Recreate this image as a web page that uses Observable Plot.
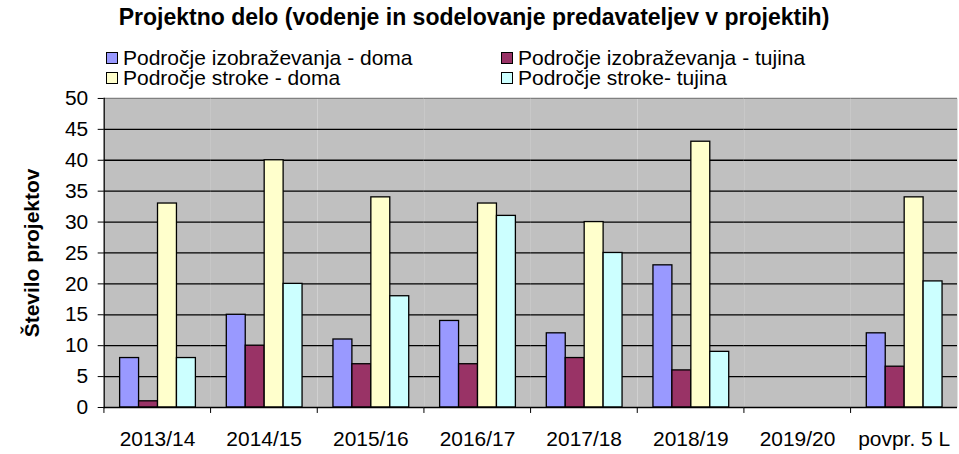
<!DOCTYPE html>
<html>
<head>
<meta charset="utf-8">
<script src="https://cdn.jsdelivr.net/npm/d3@7"></script>
<script src="https://cdn.jsdelivr.net/npm/@observablehq/plot@0.6"></script>
<style>
  html, body { margin: 0; padding: 0; background: #fff; overflow: hidden; }
  #wrap { width: 959px; height: 454px; overflow: hidden; font-family: "Liberation Sans", Arial, sans-serif; color: #000; }
  #header { position: relative; height: 84px; }
  #title { position: absolute; left: 0; width: 948px; top: 6px; text-align: center; font-weight: bold; font-size: 23px; line-height: 23px; white-space: nowrap; }
  .item { position: absolute; font-size: 21px; line-height: 18px; white-space: nowrap; }
  .sw { position: absolute; width: 10px; height: 10px; border: 1px solid #000; }
  #chart svg g[aria-label="y-axis label"] text { font-weight: bold; font-size: 21px; }
</style>
</head>
<body>
<div id="wrap">
  <div id="header"><div id="title"></div></div>
  <div id="chart"></div>
</div>
<script>
const title = "Projektno delo (vodenje in sodelovanje predavateljev v projektih)";
const yTitle = "Število projektov";
const years = ["2013/14", "2014/15", "2015/16", "2016/17", "2017/18", "2018/19", "2019/20", "povpr. 5 L"];
const series = ["Področje izobraževanja - doma", "Področje izobraževanja - tujina", "Področje stroke - doma", "Področje stroke- tujina"];
const izobrazevanjeDoma = [8, 15, 11, 14, 12, 23, null, 12];
const izobrazevanjeTujina = [1, 10, 7, 7, 8, 6, null, 6.6];
const strokaDoma = [33, 40, 34, 33, 30, 43, null, 34];
const strokaTujina = [8, 20, 18, 31, 25, 9, null, 20.4];
const colors = ["#9999FF", "#993366", "#FFFFCC", "#CCFFFF"];
const yTicks = [0, 5, 10, 15, 20, 25, 30, 35, 40, 45, 50];

const values = [izobrazevanjeDoma, izobrazevanjeTujina, strokaDoma, strokaTujina];
// keep rows for empty years (value null) so every facet exists
const data = years.flatMap((year, i) =>
  series.map((s, j) => ({year, series: s, value: values[j][i]}))
);

// header: title + legend
document.getElementById("title").textContent = title;
const header = document.getElementById("header");
const legendPos = [
  {left: 106, top: 49}, {left: 501, top: 49},
  {left: 106, top: 68.5}, {left: 501, top: 68.5}
];
series.forEach((s, i) => {
  const sw = document.createElement("div");
  sw.className = "sw";
  sw.style.background = colors[i];
  sw.style.left = legendPos[i].left + "px";
  sw.style.top = (legendPos[i].top + 3) + "px";
  header.appendChild(sw);
  const t = document.createElement("div");
  t.className = "item";
  t.textContent = s;
  t.style.left = (legendPos[i].left + 17) + "px";
  t.style.top = legendPos[i].top + "px";
  header.appendChild(t);
});

const W = 962, mL = 102, mR = 0;
const step = (W - mL - mR) / years.length;

const chart = Plot.plot({
  width: W,
  height: 370,
  marginTop: 14,
  marginBottom: 46,
  marginLeft: mL,
  marginRight: mR,
  style: {fontFamily: "Liberation Sans, Arial, sans-serif", fontSize: "21px", color: "#000", background: "transparent"},
  fx: {domain: years, padding: 0, label: null, axis: null},
  x: {domain: series, paddingInner: 0, paddingOuter: 0.68, axis: null},
  y: {domain: [0, 50], label: null, axis: null},
  color: {domain: series, range: colors},
  marks: [
    Plot.frame({fill: "#C0C0C0"}),
    Plot.gridY(yTicks.filter(t => t > 0 && t < 50), {stroke: "#000", strokeOpacity: 1, strokeWidth: 1.3}),
    Plot.ruleY([50], {stroke: "#808080", strokeWidth: 1.3}),
    Plot.barY(data, {fx: "year", x: "series", y: "value", fill: "series", stroke: "#000", strokeWidth: 1.3, strokeOpacity: 1}),
    Plot.ruleY([0], {stroke: "#000", strokeWidth: 1.3}),
    Plot.frame({anchor: "left", facetAnchor: "left", stroke: "#000", strokeWidth: 1.3}),
    Plot.axisY(yTicks, {anchor: "left", tickSize: 6, tickPadding: 10, fontSize: 21, label: yTitle, labelAnchor: "center", labelArrow: "none", labelOffset: 80}),
    Plot.axisFx({anchor: "bottom", tickSize: 0, tickPadding: 24, fontSize: 21, label: null}),
    Plot.axisFx({anchor: "bottom", tickSize: 6, text: null, dx: -step / 2, label: null})
  ]
});
document.getElementById("chart").appendChild(chart);
</script>
</body>
</html>
